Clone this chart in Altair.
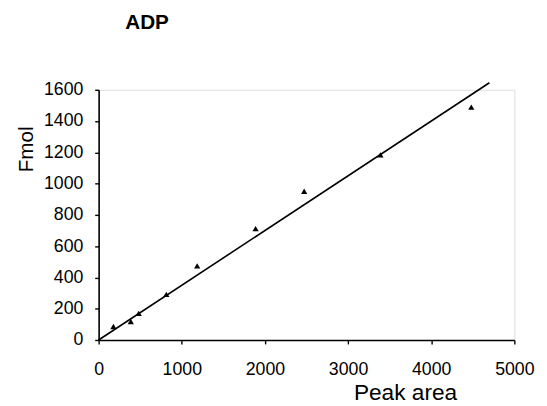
import altair as alt
import pandas as pd

peak_area = [178, 387, 482, 814, 1185, 1888, 2472, 3389, 4482]
fmol = [86, 118, 170, 292, 474, 712, 951, 1184, 1489]
fit_x = [0, 4700]
fit_y = [0, 1645]
x_ticks = [0, 1000, 2000, 3000, 4000, 5000]
y_ticks = [0, 200, 400, 600, 800, 1000, 1200, 1400, 1600]

pts = pd.DataFrame({"x": peak_area, "y": fmol})
fit = pd.DataFrame({"x": fit_x, "y": fit_y})

FONT = "Liberation Sans"

xs = alt.Scale(domain=[0, 5000], nice=False)
ys = alt.Scale(domain=[0, 1600], nice=False)

xaxis = alt.Axis(values=x_ticks, format="d", grid=False, domainColor="black", domainWidth=1.6,
                 tickColor="black", tickSize=4, tickWidth=1.4, labelPadding=17,
                 labelFont=FONT, labelFontSize=18, labelColor="black",
                 title="Peak area", titleFont=FONT, titleFontSize=23, titleFontWeight="normal",
                 titleColor="black", titleX=311, titleY=60, titleBaseline="alphabetic",
                 titleAlign="center", labelFlush=False, labelOverlap=False)
yaxis = alt.Axis(values=y_ticks, format="d", grid=False, domainColor="black", domainWidth=1.6,
                 tickColor="black", tickSize=4, tickWidth=1.4, labelPadding=12,
                 labelFont=FONT, labelFontSize=18, labelColor="black",
                 title="Fmol", titleFont=FONT, titleFontSize=21, titleFontWeight="normal",
                 titleColor="black", titleX=-67, titleY=60, titleBaseline="alphabetic",
                 titleAlign="center", titleAngle=270, labelFlush=False, labelOverlap=False)

line = alt.Chart(fit).mark_line(color="black", strokeWidth=1.6, clip=False).encode(
    x=alt.X("x:Q", scale=xs, axis=xaxis),
    y=alt.Y("y:Q", scale=ys, axis=yaxis),
)
points = alt.Chart(pts).mark_point(shape="triangle-up", filled=True, color="black",
                                   size=40, opacity=1).encode(
    x=alt.X("x:Q", scale=xs, axis=xaxis),
    y=alt.Y("y:Q", scale=ys, axis=yaxis),
)

chart = (line + points).properties(
    width=422, height=254,
    autosize=alt.AutoSizeParams(type="none"),
    padding={"left": 92, "top": 80, "right": 25, "bottom": 64},
    title=alt.TitleParams(text="ADP", anchor="start", frame="group", dx=27, offset=30,
                          baseline="alphabetic", font=FONT, fontSize=21,
                          fontWeight="bold", color="black"),
).configure_view(stroke=None).configure(background="white")

chart.save("out.html", embed_options={"renderer": "svg", "actions": False})
